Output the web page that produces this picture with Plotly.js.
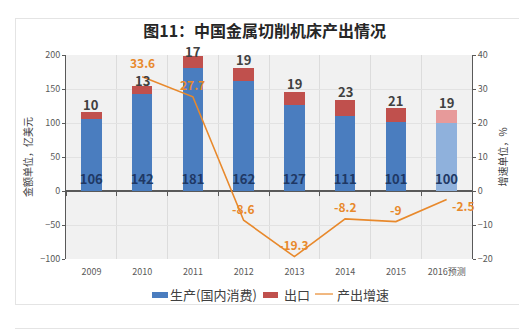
<!DOCTYPE html>
<html><head><meta charset="utf-8">
<script src="https://cdn.plot.ly/plotly-3.0.1.min.js"></script>
<style>
html,body{margin:0;padding:0;background:#fff;}
#frame{position:absolute;left:15px;top:18px;width:520px;height:285px;border:1px solid #e4e4e4;}
#line2{position:absolute;left:15px;top:328px;width:520px;height:0;border-top:1px solid #e4e4e4;}
#chart{position:absolute;left:0;top:0;width:519px;height:334px;}
</style></head>
<body>
<div id="frame"></div><div id="line2"></div>
<div id="chart"></div>
<script>
const years = ["2009","2010","2011","2012","2013","2014","2015","2016预测"];
const domestic = [106,142,181,162,127,111,101,100];
const exportVals = [10,13,17,19,19,23,21,19];
const growthYears = ["2010","2011","2012","2013","2014","2015","2016预测"];
const growth = [33.6,27.7,-8.6,-19.3,-8.2,-9,-2.5];
const legendNames = ["生产(国内消费)","出口","产出增速"];

const blueCols = years.map((y,i)=> i===years.length-1 ? "#8fb1dc" : "#4a7dbf");
const redCols = years.map((y,i)=> i===years.length-1 ? "#e79a9a" : "#c0504d");
const totals = domestic.map((d,i)=> d + exportVals[i]);
const cjk = '"Noto Sans CJK SC", "Liberation Sans", sans-serif';
const orange = "#e8892c";

const traces = [
  {type:"bar", name:legendNames[0], x:years, y:domestic, marker:{color:blueCols},
   text:domestic.map(String), textposition:"inside", insidetextanchor:"start", textangle:0,
   constraintext:"none",
   textfont:{family:cjk, size:13, color:"#1f3864", weight:"bold"}, width:0.4, cliponaxis:false},
  {type:"bar", name:legendNames[1], x:years, y:exportVals, marker:{color:redCols},
   textposition:"none", width:0.4},
  {type:"scatter", mode:"lines", name:legendNames[2], x:growthYears, y:growth, yaxis:"y2",
   line:{color:orange, width:1.6}},
  // invisible trace carrying the zero-line category tick marks axis
  {type:"scatter", mode:"none", x:years, y:domestic, xaxis:"x2", showlegend:false, hoverinfo:"skip"}
];

const annotations = [];
// export labels above stacked bars (x as category index)
years.forEach((yr,i)=>{
  annotations.push({x:years.indexOf(yr), y:totals[i], xref:"x", yref:"y", text:"<b>"+exportVals[i]+"</b>",
    showarrow:false, yanchor:"middle", yshift:i===1?5:(i===2?5:8),
    font:{family:cjk, size:13, color:"#404040"}});
});
// growth labels
growthYears.forEach((yr,i)=>{
  const last = i===growthYears.length-1;
  annotations.push({x:years.indexOf(yr), y:growth[i], xref:"x", yref:"y2", text:"<b>"+growth[i]+"</b>",
    showarrow:false, yanchor:"middle", xanchor:"center",
    yshift:last?-6:(i===0?14:12), xshift:last?17:0,
    font:{family:cjk, size:12, color:orange}});
});
// custom legend texts
const legX = [0.2512, 0.5320, 0.6626];
legendNames.forEach((n,i)=>{
  annotations.push({x:legX[i], y:-0.1716, xref:"paper", yref:"paper", text:n, showarrow:false,
    xanchor:"left", yanchor:"middle", font:{family:cjk, size:13, color:"#404040"}});
});

const shapes = [
  {type:"rect", xref:"paper", yref:"paper", x0:0.2118, x1:0.2512, y0:-0.1912, y1:-0.1618,
   fillcolor:"#4a7dbf", line:{width:0}},
  {type:"rect", xref:"paper", yref:"paper", x0:0.4852, x1:0.5222, y0:-0.1912, y1:-0.1618,
   fillcolor:"#c0504d", line:{width:0}},
  {type:"line", xref:"paper", yref:"paper", x0:0.6133, x1:0.6576, y0:-0.1716, y1:-0.1716,
   line:{color:orange, width:1.2}}
];

const layout = {
  width:519, height:334,
  margin:{l:66, r:47, t:55, b:75},
  paper_bgcolor:"rgba(0,0,0,0)", plot_bgcolor:"#f1f1f1",
  barmode:"stack",
  showlegend:false,
  title:{text:"<b>图11：中国金属切削机床产出情况</b>", x:0.51, xanchor:"center", y:0.907, yanchor:"middle",
         font:{family:cjk, size:16, color:"#262626"}},
  xaxis:{type:"category", tickson:"boundaries", showgrid:true, gridcolor:"#dcdcdc", gridwidth:1,
         ticks:"", tickfont:{family:cjk, size:9, color:"#595959"}, showline:false, zeroline:false,
         ticklabelstandoff:6, categoryorder:"array", categoryarray:years,
         range:[-0.5, years.length-0.5], tickangle:0},
  xaxis2:{type:"category", overlaying:"x", anchor:"free", position:1/3, side:"bottom",
          categoryorder:"array", categoryarray:years, range:[-0.5, years.length-0.5],
          tickson:"boundaries", ticks:"outside", ticklen:4, tickcolor:"#595959", tickwidth:1,
          showticklabels:false, showgrid:false, showline:false, zeroline:false},
  yaxis:{range:[-100,200], dtick:50, tickfont:{family:cjk, size:9, color:"#595959"},
         gridcolor:"#e2e2e2", showline:true, linecolor:"#595959", linewidth:1,
         zeroline:true, zerolinecolor:"#595959", zerolinewidth:1.5,
         ticks:"outside", ticklen:3, tickcolor:"#595959",
         title:{text:"金额单位，亿美元", font:{family:cjk, size:10, color:"#404040"}, standoff:5}},
  yaxis2:{range:[-20,40], dtick:10, overlaying:"y", side:"right", showgrid:false, zeroline:false,
          tickfont:{family:cjk, size:9, color:"#595959"}, showline:true, linecolor:"#595959", linewidth:1,
          ticks:"outside", ticklen:3, tickcolor:"#595959",
          title:{text:"增速单位，%", font:{family:cjk, size:10, color:"#404040"}, standoff:8}},
  annotations:annotations,
  shapes:shapes
};

Plotly.newPlot("chart", traces, layout, {staticPlot:true, displayModeBar:false});
</script>
</body></html>
